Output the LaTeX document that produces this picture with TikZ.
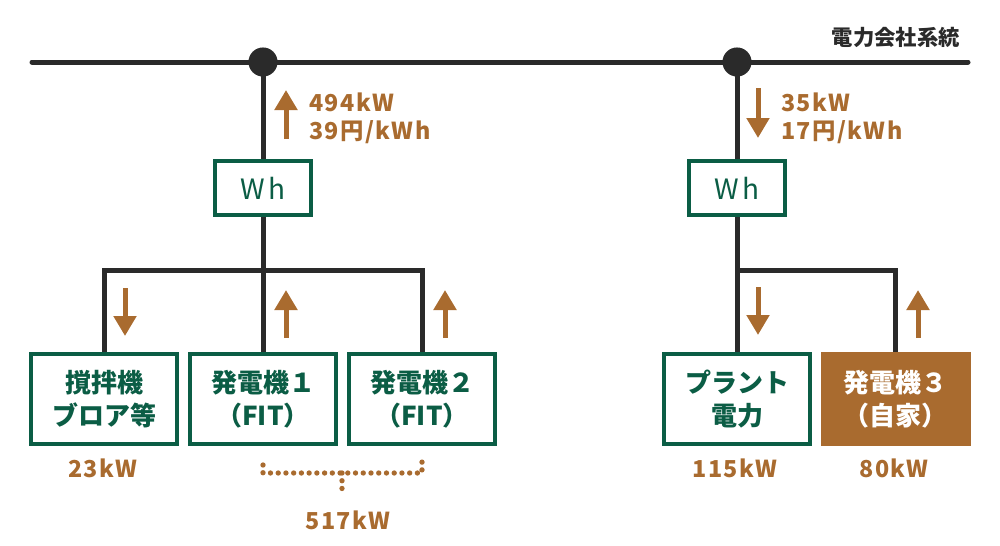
\documentclass[tikz,border=0pt]{standalone}
\usepackage{fontspec}
\setmainfont{Noto Sans CJK JP}
\newfontfamily\lblfont{Noto Sans CJK JP}[LetterSpace=6]
\newfontfamily\whfont{Noto Sans CJK JP}[LetterSpace=12]
\usetikzlibrary{arrows.meta}
\definecolor{grn}{HTML}{0B5D45}
\definecolor{brn}{HTML}{A96B2F}
\definecolor{ink}{HTML}{2A2A2A}
\begin{document}
\begin{tikzpicture}[x=0.75pt,y=-0.75pt,
  bus/.style={draw=ink,line width=3.75pt},
  box/.style={draw=grn,line width=3pt,fill=white,minimum width=109.5pt,minimum height=67.5pt,
    inner sep=0pt,align=center,text=grn,font=\bfseries\fontsize{19.5pt}{24.75pt}\selectfont},
  genbox/.style={box,draw=brn,fill=brn,text=white},
  whbox/.style={draw=grn,line width=3pt,fill=white,minimum width=72pt,minimum height=40.5pt,
    inner sep=0pt,text=grn,font=\whfont\fontsize{21pt}{22pt}\selectfont},
  flow/.style={draw=brn,line width=3.75pt,-{Triangle[width=16.5pt,length=15pt]}},
  lbl/.style={text=brn,inner sep=0pt,font=\lblfont\bfseries\fontsize{17.5pt}{22pt}\selectfont},
  dotline/.style={draw=brn,line width=4pt,line cap=round,dash pattern=on 0pt off 5.8pt},
  title/.style={text=ink,inner sep=0pt,font=\bfseries\fontsize{16pt}{18pt}\selectfont}]
\useasboundingbox (0,0) rectangle (1000,546);
% coordinates
\coordinate (busL) at (32,62);
\coordinate (busR) at (968,62);
\coordinate (dot1) at (263,62);
\coordinate (dot2) at (737,62);
\coordinate (j1) at (263,270);
\coordinate (j2) at (737,270);
% nodes
\node[whbox] (wh1) at (263,188) {Wh};
\node[whbox] (wh2) at (737,188) {Wh};
\node[box] (b1) at (104,399) {撹拌機\\ブロア等};
\node[box] (b2) at (263,399) {発電機１\\（FIT）};
\node[box] (b3) at (422,399) {発電機２\\（FIT）};
\node[box] (b4) at (737,399) {プラント\\電力};
\node[genbox] (b5) at (895.5,399) {発電機３\\（自家）};
\node[title,anchor=east] (sys) at (960,37) {電力会社系統};
% lines
\draw[bus,line cap=round] (busL) -- (busR);
\draw[bus] (dot1) -- (wh1.north);
\draw[bus] (dot2) -- (wh2.north);
\draw[bus] (wh1.south) -- (b2.north);
\draw[bus] (b1.north) |- (j1) -| (b3.north);
\draw[bus] (wh2.south) -- (b4.north);
\draw[bus] (j2) -| (b5.north);
\fill[ink] (dot1) circle (10.9pt);
\fill[ink] (dot2) circle (10.9pt);
% flow arrows
\draw[flow] (286,139) -- (286,90);
\draw[flow] (758,88) -- (758,138);
\draw[flow] (125,288) -- (125,336);
\draw[flow] (286,338) -- (286,290);
\draw[flow] (445,338) -- (445,290);
\draw[flow] (758,287) -- (758,335);
\draw[flow] (918,338) -- (918,290);
% labels
\node[lbl,anchor=west] (l1a) at (309,102) {494kW};
\node[lbl,anchor=west] (l1b) at (309,132) {39円/kWh};
\node[lbl,anchor=west] (l2a) at (781,102) {35kW};
\node[lbl,anchor=west] (l2b) at (781,132) {17円/kWh};
\node[lbl] (k1) at (103,468) {23kW};
\node[lbl] (k4) at (735,468) {115kW};
\node[lbl] (k5) at (894,468) {80kW};
\node[lbl] (k23) at (348,520) {517kW};
% dotted bracket
\coordinate (dA) at (263,465);
\coordinate (dB) at (263,473);
\coordinate (dC) at (422,473);
\coordinate (dD) at (422,457);
\coordinate (dM) at (342,473);
\coordinate (dE) at (342,494);
\draw[dotline] (dA) -- (dB) -- (dC) -- (dD);
\draw[dotline] (dM) -- (dE);
\end{tikzpicture}
\end{document}
